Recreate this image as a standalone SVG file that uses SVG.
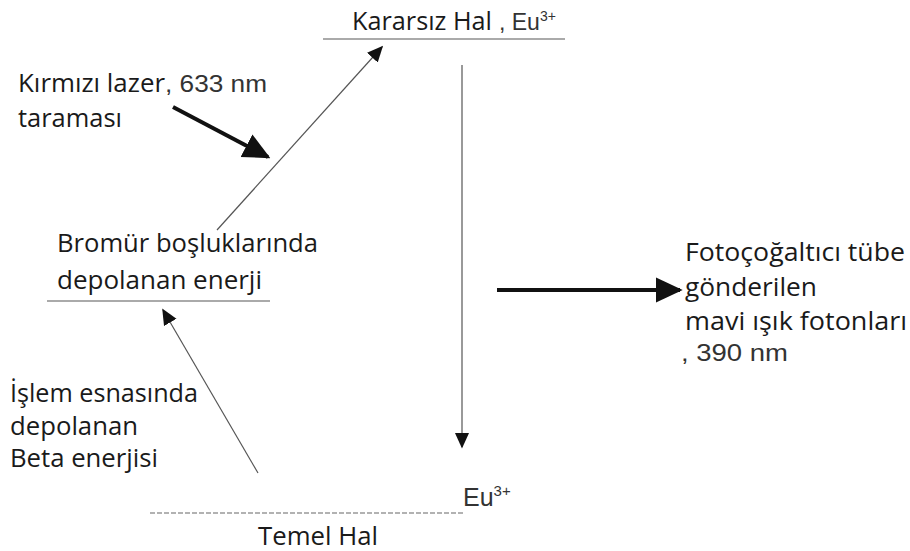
<svg xmlns="http://www.w3.org/2000/svg" width="910" height="551" viewBox="0 0 910 551">
<style>
.t{font-family:"Open Sans","Noto Sans",sans-serif;font-size:25px;fill:#1a1a1a}
.a{font-family:"Liberation Sans",Arial,sans-serif;font-size:23px;fill:#333}
.sup{font-size:14px}
.lvl{stroke:#aaa;stroke-width:2;fill:none}
.thin{stroke:#555;stroke-width:1.2;fill:none}
.bold{stroke:#111;stroke-width:4;fill:none}
</style>
<defs>
<marker id="hs" viewBox="0 0 10 10" refX="9" refY="5" markerWidth="16" markerHeight="16" markerUnits="userSpaceOnUse" orient="auto"><path d="M0,0.5 L10,5 L0,9.5 z" fill="#111"/></marker>
<marker id="hb" viewBox="0 0 10 10" refX="9" refY="5" markerWidth="27" markerHeight="27" markerUnits="userSpaceOnUse" orient="auto"><path d="M0,0.3 L10,5 L0,9.7 z" fill="#111"/></marker>
</defs>
<rect width="910" height="551" fill="#fff"/>
<g id="kararsiz">
<line class="lvl" x1="323" y1="39" x2="565" y2="39"/>
<text class="t" x="352" y="30" textLength="140" lengthAdjust="spacingAndGlyphs">Kararsız Hal</text>
<text class="a" x="499" y="30">, Eu<tspan class="sup" dy="-9">3+</tspan></text>
</g>
<g id="lazer">
<text class="t" x="18" y="92" textLength="147" lengthAdjust="spacingAndGlyphs">Kırmızı lazer</text>
<text class="a" x="165" y="92" textLength="102" lengthAdjust="spacingAndGlyphs">, 633 nm</text>
<text class="t" x="18" y="127" textLength="104" lengthAdjust="spacingAndGlyphs">taraması</text>
</g>
<g id="bromur">
<text class="t" x="57" y="252" textLength="261" lengthAdjust="spacingAndGlyphs">Bromür boşluklarında</text>
<text class="t" x="57" y="289" textLength="205" lengthAdjust="spacingAndGlyphs">depolanan enerji</text>
<line class="lvl" x1="47" y1="301" x2="270" y2="301"/>
</g>
<g id="islem">
<text class="t" x="10" y="402" textLength="188" lengthAdjust="spacingAndGlyphs">İşlem esnasında</text>
<text class="t" x="10" y="435" textLength="128" lengthAdjust="spacingAndGlyphs">depolanan</text>
<text class="t" x="10" y="467" textLength="148" lengthAdjust="spacingAndGlyphs">Beta enerjisi</text>
</g>
<g id="temel">
<line x1="150" y1="513" x2="463" y2="513" stroke="#999" stroke-width="1.3" stroke-dasharray="5,2"/>
<text class="a" x="463" y="506" style="font-size:25px">Eu<tspan class="sup" dy="-10" style="font-size:15px">3+</tspan></text>
<text class="t" x="258" y="545" textLength="120" lengthAdjust="spacingAndGlyphs">Temel Hal</text>
</g>
<g id="foto">
<text class="t" x="685" y="261" textLength="220" lengthAdjust="spacingAndGlyphs">Fotoçoğaltıcı tübe</text>
<text class="t" x="685" y="296" textLength="132" lengthAdjust="spacingAndGlyphs">gönderilen</text>
<text class="t" x="685" y="330" textLength="222" lengthAdjust="spacingAndGlyphs">mavi ışık fotonları</text>
<text class="a" x="681" y="361" textLength="107" lengthAdjust="spacingAndGlyphs">, 390 nm</text>
</g>
<g id="connectors">
<line class="thin" x1="217" y1="230" x2="382" y2="47" marker-end="url(#hs)"/>
<line class="bold" x1="173" y1="107" x2="268" y2="157" marker-end="url(#hb)"/>
<line class="thin" x1="258" y1="473" x2="163" y2="310" marker-end="url(#hs)"/>
<line class="thin" x1="462" y1="65" x2="462" y2="447" marker-end="url(#hs)"/>
<line class="bold" x1="497" y1="290" x2="680" y2="290" marker-end="url(#hb)"/>
</g>
</svg>
